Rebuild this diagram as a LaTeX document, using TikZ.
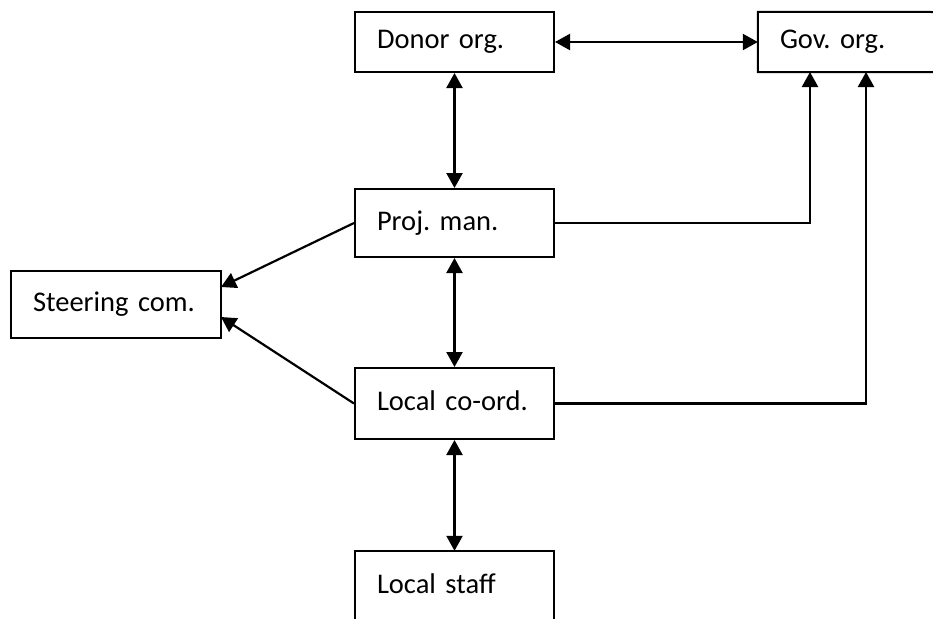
\documentclass[tikz,border=0pt]{standalone}
\usepackage{fontspec}
\setmainfont{Carlito}
\usetikzlibrary{arrows.meta}
\begin{document}
\frenchspacing
\begin{tikzpicture}[x=1pt,y=-1pt,
  box/.style={draw=black,line width=2pt,rectangle,inner xsep=22pt,inner ysep=0pt,
     align=left,font=\fontsize{28.5}{32}\selectfont},
  openbox/.style={rectangle,inner xsep=22pt,inner ysep=0pt,align=left,font=\fontsize{28.5}{32}\selectfont},
  conn/.style={line width=2.2pt,-{Triangle[width=16pt,length=15pt]}},
  bconn/.style={line width=2.2pt,{Triangle[width=16pt,length=15pt]}-{Triangle[width=16pt,length=15pt]}}
]
\useasboundingbox (0,0) rectangle (933,619);
% boxes
\node[box,minimum width=199pt,minimum height=60pt,text width=155pt] (donor) at (454.5,42) {Donor org.};
\node[openbox,minimum width=175pt,minimum height=60pt,text width=131pt] (gov) at (845.5,42) {Gov. org.};
\draw[line width=2pt] (934,12) -- (gov.north west) -- (gov.south west) -- (934,72);
\node[box,minimum width=199pt,minimum height=68pt,text width=155pt] (proj) at (454.5,223) {Proj. man.};
\node[box,minimum width=210pt,minimum height=67pt,text width=166pt] (steer) at (116,304.5) {Steering com.};
\node[box,minimum width=199pt,minimum height=71pt,text width=155pt] (local) at (454.5,403.5) {\raisebox{5pt}{Local co-ord.}};
\node[openbox,minimum width=199pt,minimum height=68pt,text width=155pt] (staff) at (454.5,585) {\raisebox{2pt}{Local staff}};
\draw[line width=2pt] (staff.south west) -- (staff.north west) -- (staff.north east) -- (staff.south east);
% connectors
\draw[bconn] (donor.east) -- (gov.west);
\draw[bconn] (donor.south) -- (proj.north);
\draw[bconn] (proj.south) -- (local.north);
\draw[bconn] (local.south) -- (staff.north);
\coordinate (g1) at (810,72);
\coordinate (g2) at (866,72);
\draw[conn] (proj.east) -| (g1);
\draw[conn] (local.east) -| (g2);
\coordinate (s1) at (221,287);
\coordinate (s2) at (221,317);
\draw[conn] (proj.west) -- (s1);
\draw[conn] (local.west) -- (s2);
\end{tikzpicture}
\end{document}
